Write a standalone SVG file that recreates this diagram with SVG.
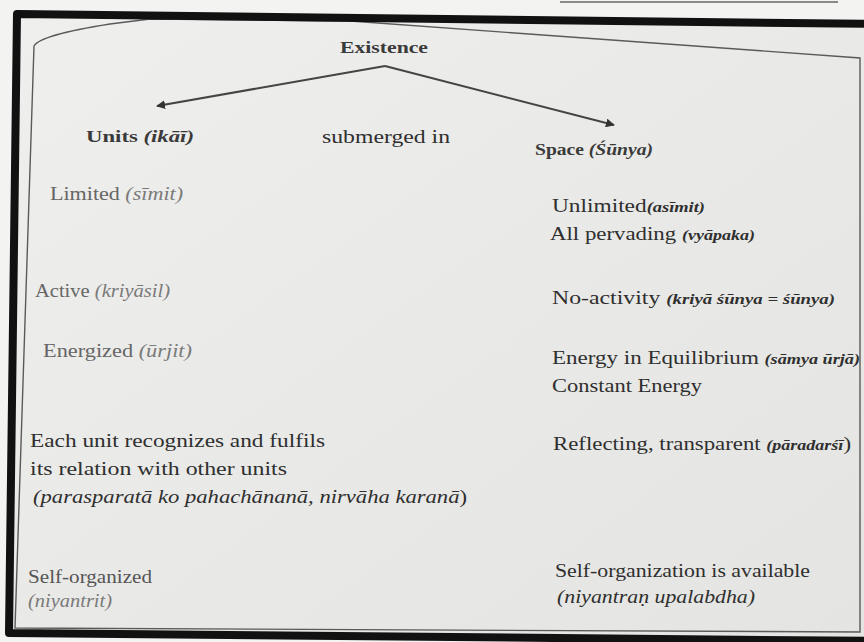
<svg xmlns="http://www.w3.org/2000/svg" width="864" height="642" viewBox="0 0 864 642" font-family="'Liberation Serif', 'DejaVu Serif', serif">
<defs>
<marker id="ah" viewBox="0 0 10 10" refX="9" refY="5" markerWidth="9" markerHeight="9" markerUnits="userSpaceOnUse" orient="auto">
<path d="M0,0 L10,5 L0,10 Z" fill="#333"/>
</marker>
<linearGradient id="paper" x1="0" y1="0" x2="1" y2="1">
<stop offset="0" stop-color="#efefed"/>
<stop offset="0.5" stop-color="#e9e9e7"/>
<stop offset="1" stop-color="#e4e4e2"/>
</linearGradient>
</defs>
<style>
text{font-family:'Liberation Serif','DejaVu Serif',serif;fill:#2f2f2f;font-size:19px}
.hd{font-weight:bold;font-size:17px;fill:#3a3a3a}
.it{font-style:italic}
.bi{font-style:italic;font-weight:bold;font-size:15px}
.lt{fill:#666}
.lti{fill:#7a7a7a;font-style:italic}
.frame{fill:none;stroke:#111;stroke-width:8;stroke-linejoin:round}
.inner{fill:none;stroke:#5a5a5a;stroke-width:1.4}
.conn{fill:none;stroke:#444;stroke-width:2}
</style>
<rect x="0" y="0" width="864" height="642" fill="#f3f3f2"/>
<line x1="560" y1="2" x2="838" y2="2" stroke="#8a8a8a" stroke-width="2"/>
<polygon points="17,14 880,24 880,641 9,633" fill="url(#paper)"/>
<path class="inner" d="M15,628 L34,46 Q40,35 110,24 L150,19 L350,21 L860,58 L860,632 Z"/>
<polygon class="frame" points="17,14 880,24 880,641 9,633"/>

<g id="connectors">
<path class="conn" d="M385,66 L157,106" marker-end="url(#ah)"/>
<path class="conn" d="M385,66 L614,125" marker-end="url(#ah)"/>
</g>

<g id="existence"><text class="hd" x="340" y="53" font-size="18" textLength="88" lengthAdjust="spacingAndGlyphs">Existence</text></g>
<g id="units"><text class="hd" x="86" y="142" textLength="108" lengthAdjust="spacingAndGlyphs">Units <tspan font-style="italic">(ikāī)</tspan></text></g>
<g id="submerged"><text x="322" y="143" font-size="20" textLength="128" lengthAdjust="spacingAndGlyphs">submerged in</text></g>
<g id="space"><text class="hd" x="535" y="155" textLength="118" lengthAdjust="spacingAndGlyphs">Space <tspan font-style="italic">(Śūnya)</tspan></text></g>

<g id="limited"><text class="lt" x="50" y="200" font-size="18" textLength="133" lengthAdjust="spacingAndGlyphs">Limited <tspan class="lti">(sīmit)</tspan></text></g>
<g id="unlimited">
<text x="552" y="212" textLength="153" lengthAdjust="spacingAndGlyphs">Unlimited<tspan class="bi">(asīmit)</tspan></text>
<text x="550" y="240" textLength="205" lengthAdjust="spacingAndGlyphs">All pervading <tspan class="bi">(vyāpaka)</tspan></text>
</g>
<g id="active"><text class="lt" x="35" y="297" font-size="17" textLength="135" lengthAdjust="spacingAndGlyphs">Active <tspan class="lti">(kriyāsil)</tspan></text></g>
<g id="noactivity"><text x="552" y="304" textLength="283" lengthAdjust="spacingAndGlyphs">No-activity <tspan class="bi" font-size="14">(kriyā śūnya = śūnya)</tspan></text></g>
<g id="energized"><text class="lt" x="43" y="357" font-size="18" textLength="149" lengthAdjust="spacingAndGlyphs">Energized <tspan class="lti">(ūrjit)</tspan></text></g>
<g id="energy">
<text x="552" y="364" textLength="308" lengthAdjust="spacingAndGlyphs">Energy in Equilibrium <tspan class="bi" font-size="14">(sāmya ūrjā)</tspan></text>
<text x="552" y="392" textLength="150" lengthAdjust="spacingAndGlyphs">Constant Energy</text>
</g>
<g id="eachunit">
<text x="30" y="447" textLength="295" lengthAdjust="spacingAndGlyphs">Each unit recognizes and fulfils</text>
<text x="30" y="475" textLength="257" lengthAdjust="spacingAndGlyphs">its relation with other units</text>
<text class="it" x="33" y="503" textLength="434" lengthAdjust="spacingAndGlyphs">(parasparatā ko pahachānanā, nirvāha karanā<tspan font-style="normal">)</tspan></text>
</g>
<g id="reflecting"><text x="553" y="450" textLength="298" lengthAdjust="spacingAndGlyphs">Reflecting, transparent <tspan class="bi" font-size="16">(pāradarśī</tspan>)</text></g>
<g id="selforganized">
<text x="28" y="583" style="fill:#555" textLength="124" lengthAdjust="spacingAndGlyphs">Self-organized</text>
<text class="lti" x="28" y="607" font-size="17" textLength="84" lengthAdjust="spacingAndGlyphs">(niyantrit)</text>
</g>
<g id="selforganization">
<text x="555" y="577" textLength="255" lengthAdjust="spacingAndGlyphs">Self-organization is available</text>
<text class="it" x="557" y="603" textLength="198" lengthAdjust="spacingAndGlyphs">(niyantraṇ upalabdha)</text>
</g>
</svg>
